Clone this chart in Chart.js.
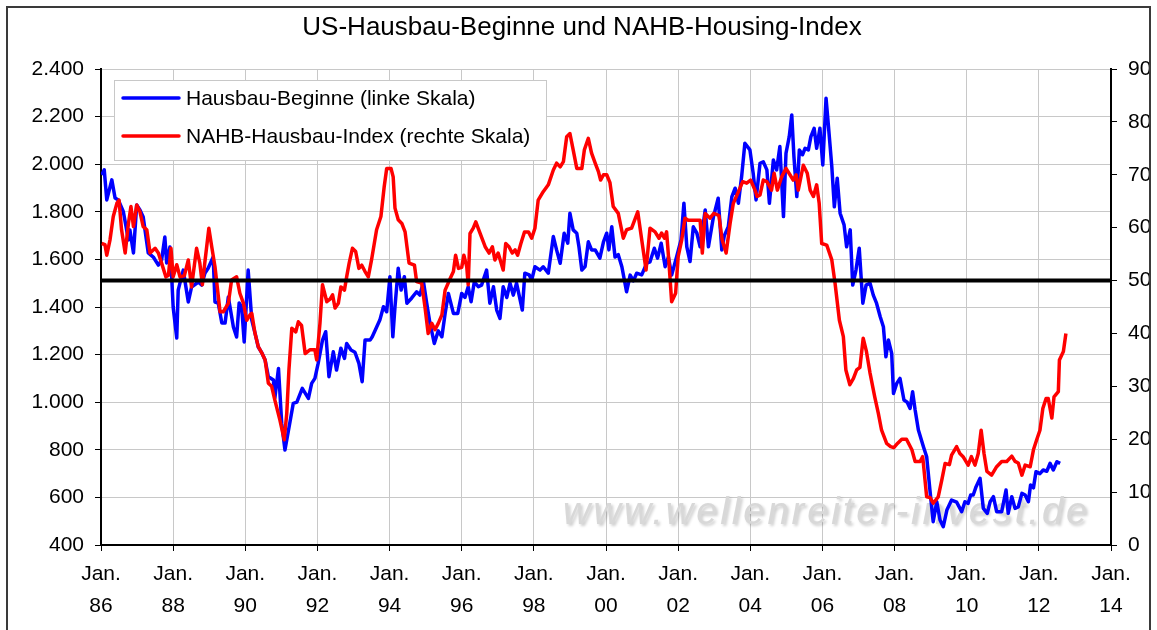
<!DOCTYPE html>
<html lang="de">
<head>
<meta charset="utf-8">
<title>US-Hausbau-Beginne und NAHB-Housing-Index</title>
<script src="https://cdn.jsdelivr.net/npm/chart.js@4.4.0/dist/chart.umd.min.js"></script>
<style>
  html, body { margin: 0; padding: 0; background: #fff; }
  #wrap { width: 1157px; height: 630px; position: relative; }
</style>
</head>
<body>
<div id="wrap"><canvas id="housingChart"></canvas></div>
<script>
// Housing starts (thousands, annualised)
const hsDates = [
  1986.02, 1986.09, 1986.16, 1986.30, 1986.39, 1986.48, 1986.62, 1986.76, 1986.80, 1986.90, 1986.99,
  1987.08, 1987.17, 1987.22, 1987.31, 1987.45, 1987.59, 1987.68, 1987.77, 1987.82, 1987.91, 1987.96,
  1988.00, 1988.10, 1988.14, 1988.28, 1988.42, 1988.51, 1988.70, 1988.79, 1988.88, 1988.97,
  1989.11, 1989.16, 1989.25, 1989.35, 1989.44, 1989.53, 1989.67, 1989.76, 1989.83, 1989.90, 1989.97,
  1990.08, 1990.18, 1990.27, 1990.36, 1990.46, 1990.55, 1990.64, 1990.78, 1990.82, 1990.92,
  1991.01, 1991.10, 1991.24, 1991.33, 1991.43, 1991.58, 1991.75, 1991.84, 1991.93,
  1992.02, 1992.14, 1992.23, 1992.32, 1992.44, 1992.53, 1992.65, 1992.75, 1992.81, 1992.93,
  1993.04, 1993.15, 1993.24, 1993.32, 1993.46, 1993.52, 1993.73, 1993.83, 1993.92,
  1994.01, 1994.09, 1994.15, 1994.24, 1994.32, 1994.41, 1994.48, 1994.61, 1994.75, 1994.84, 1994.94,
  1995.03, 1995.12, 1995.24, 1995.35, 1995.45, 1995.54, 1995.63, 1995.77, 1995.89,
  1996.00, 1996.09, 1996.18, 1996.26, 1996.35, 1996.46, 1996.55, 1996.69, 1996.78, 1996.88, 1996.97,
  1997.06, 1997.15, 1997.25, 1997.34, 1997.43, 1997.52, 1997.68, 1997.75, 1997.87, 1997.94,
  1998.03, 1998.17, 1998.26, 1998.40, 1998.54, 1998.63, 1998.73, 1998.84, 1998.94,
  1999.00, 1999.09, 1999.19, 1999.25, 1999.33, 1999.42, 1999.51, 1999.60, 1999.70, 1999.83, 1999.93,
  2000.02, 2000.08, 2000.16, 2000.25, 2000.34, 2000.44, 2000.57, 2000.67, 2000.76, 2000.85, 2000.99,
  2001.13, 2001.22, 2001.34, 2001.43, 2001.53, 2001.64, 2001.73, 2001.82, 2001.96,
  2002.08, 2002.16, 2002.24, 2002.33, 2002.42, 2002.52, 2002.61, 2002.75, 2002.84, 2002.98,
  2003.11, 2003.21, 2003.28, 2003.39, 2003.49, 2003.58, 2003.67, 2003.76, 2003.85, 2003.99,
  2004.08, 2004.16, 2004.27, 2004.36, 2004.46, 2004.53, 2004.64, 2004.73, 2004.82, 2004.92, 2004.99,
  2005.08, 2005.15, 2005.21, 2005.29, 2005.36, 2005.45, 2005.52, 2005.61, 2005.68, 2005.77, 2005.84, 2005.93,
  2006.01, 2006.10, 2006.16, 2006.26, 2006.33, 2006.41, 2006.49, 2006.60, 2006.67, 2006.77, 2006.84, 2006.93,
  2007.02, 2007.12, 2007.21, 2007.32, 2007.41, 2007.50, 2007.60, 2007.69, 2007.76, 2007.83, 2007.92, 2007.97,
  2008.06, 2008.15, 2008.26, 2008.35, 2008.43, 2008.50, 2008.57, 2008.66, 2008.80, 2008.89, 2008.98,
  2009.07, 2009.17, 2009.26, 2009.35, 2009.45, 2009.58, 2009.72, 2009.86, 2009.95,
  2010.04, 2010.11, 2010.18, 2010.26, 2010.37, 2010.46, 2010.57, 2010.65, 2010.74, 2010.83, 2010.97,
  2011.09, 2011.15, 2011.25, 2011.34, 2011.43, 2011.53, 2011.62, 2011.71, 2011.77, 2011.85, 2011.92,
  2012.03, 2012.12, 2012.22, 2012.31, 2012.40, 2012.50, 2012.59
];
const hsValues = [
  1955, 1976, 1850, 1934, 1858, 1850, 1800, 1682, 1724, 1627, 1829,
  1808, 1778, 1724, 1627, 1610, 1576, 1597, 1694, 1585, 1652, 1526,
  1400, 1270, 1471, 1555, 1421, 1484, 1505, 1492, 1542, 1563,
  1610, 1421, 1417, 1333, 1333, 1442, 1316, 1274, 1417, 1400, 1253,
  1555, 1345, 1290, 1232, 1207, 1177, 1107, 1093, 1018, 1142,
  911, 799, 918, 995, 1000, 1058, 1016, 1079, 1100,
  1163, 1261, 1296, 1107, 1212, 1135, 1227, 1184, 1247, 1219,
  1210, 1163, 1086, 1261, 1261, 1275, 1345, 1401, 1380,
  1527, 1275, 1401, 1563, 1471, 1527, 1416, 1437, 1464, 1450, 1506,
  1416, 1332, 1247, 1300, 1275, 1373, 1457, 1373, 1373,
  1457, 1440, 1485, 1422, 1506, 1485, 1492, 1555, 1416, 1485, 1387,
  1352, 1485, 1440, 1500, 1450, 1500, 1387, 1542, 1535, 1513,
  1569, 1555, 1569, 1542, 1696, 1640, 1584, 1710, 1668,
  1794, 1724, 1710, 1653, 1555, 1570, 1674, 1640, 1640, 1605, 1674,
  1710, 1640, 1737, 1610, 1620, 1569, 1464, 1534, 1510, 1542, 1535,
  1584, 1590, 1647, 1605, 1668, 1569, 1610, 1534, 1612,
  1682, 1836, 1653, 1591, 1737, 1710, 1653, 1808, 1653, 1780,
  1857, 1640, 1700, 1737, 1864, 1899, 1836, 1948, 2088, 2060,
  1962, 1850, 2004, 2010, 1976, 1836, 2018, 1976, 2074, 1780, 2046,
  2116, 2207, 2032, 1864, 2060, 2040, 2067, 2060, 2116, 2151, 2067, 2151,
  1997, 2277, 2172, 1990, 1821, 1941, 1794, 1745, 1653, 1724, 1492, 1555,
  1647, 1416, 1492, 1500, 1450, 1416, 1360, 1317, 1191, 1261, 1205, 1037,
  1079, 1100, 1009, 1000, 974, 1044, 967, 883, 813, 771, 631,
  498, 582, 505, 477, 547, 589, 580, 540, 582,
  575, 610, 610, 645, 680, 554, 533, 582, 603, 540, 540,
  631, 533, 603, 554, 560, 617, 610, 582, 652, 640, 708,
  700, 715, 710, 743, 715, 750, 743
];

// NAHB housing market index (right scale)
const nahbDates = [
  1986.02, 1986.11, 1986.16, 1986.25, 1986.34, 1986.44, 1986.50, 1986.57, 1986.67, 1986.76, 1986.83, 1986.90, 1986.99,
  1987.08, 1987.17, 1987.27, 1987.36, 1987.50, 1987.59, 1987.68, 1987.80, 1987.87, 1987.94,
  1988.00, 1988.10, 1988.19, 1988.31, 1988.42, 1988.51, 1988.65, 1988.74, 1988.81, 1988.88, 1988.99,
  1989.07, 1989.16, 1989.30, 1989.39, 1989.53, 1989.62, 1989.76, 1989.85, 1989.95,
  1990.04, 1990.13, 1990.18, 1990.27, 1990.36, 1990.46, 1990.55, 1990.64, 1990.73, 1990.82, 1990.96,
  1991.08, 1991.15, 1991.21, 1991.29, 1991.40, 1991.47, 1991.56, 1991.66, 1991.79, 1991.93, 1991.98,
  1992.07, 1992.14, 1992.26, 1992.35, 1992.42, 1992.49, 1992.58, 1992.65, 1992.75, 1992.81, 1992.88, 1992.97,
  1993.06, 1993.15, 1993.23, 1993.32, 1993.41, 1993.50, 1993.64, 1993.76, 1993.85, 1993.92,
  1994.04, 1994.10, 1994.15, 1994.24, 1994.34, 1994.43, 1994.54, 1994.69, 1994.75, 1994.89, 1994.98,
  1995.07, 1995.17, 1995.26, 1995.35, 1995.45, 1995.54, 1995.68, 1995.77, 1995.83, 1995.91,
  1996.00, 1996.06, 1996.14, 1996.18, 1996.23, 1996.32, 1996.39, 1996.51, 1996.65, 1996.76, 1996.85, 1996.92,
  1997.01, 1997.15, 1997.22, 1997.31, 1997.40, 1997.48, 1997.55, 1997.64, 1997.74, 1997.85, 1997.94,
  1998.03, 1998.12, 1998.26, 1998.40, 1998.54, 1998.63, 1998.73, 1998.82, 1998.91,
  1999.00, 1999.09, 1999.19, 1999.33, 1999.40, 1999.51, 1999.60, 1999.70, 1999.79, 1999.85, 1999.93,
  2000.02, 2000.11, 2000.20, 2000.34, 2000.48, 2000.57, 2000.71, 2000.88, 2000.99,
  2001.11, 2001.22, 2001.36, 2001.47, 2001.54, 2001.62, 2001.68, 2001.74, 2001.82, 2001.93,
  2002.00, 2002.10, 2002.19, 2002.28, 2002.42, 2002.61, 2002.67, 2002.75, 2002.88, 2002.99,
  2003.13, 2003.22, 2003.33, 2003.44, 2003.53, 2003.67, 2003.79, 2003.90,
  2004.01, 2004.13, 2004.19, 2004.27, 2004.36, 2004.46, 2004.59, 2004.66, 2004.75, 2004.87, 2004.99,
  2005.10, 2005.19, 2005.27, 2005.33, 2005.47, 2005.58, 2005.66, 2005.75, 2005.84, 2005.91, 2005.98,
  2006.12, 2006.26, 2006.35, 2006.47, 2006.58, 2006.65, 2006.76, 2006.86, 2006.95,
  2007.04, 2007.13, 2007.22, 2007.32, 2007.45, 2007.55, 2007.64, 2007.78, 2007.89, 2007.98,
  2008.08, 2008.20, 2008.33, 2008.48, 2008.57, 2008.71, 2008.78, 2008.89, 2008.98,
  2009.07, 2009.21, 2009.31, 2009.40, 2009.52, 2009.58, 2009.72, 2009.81, 2009.90,
  2010.04, 2010.13, 2010.23, 2010.32, 2010.40, 2010.48, 2010.56, 2010.69, 2010.83, 2010.97,
  2011.11, 2011.25, 2011.34, 2011.43, 2011.53, 2011.62, 2011.76, 2011.85, 2011.94,
  2012.03, 2012.11, 2012.20, 2012.26, 2012.36, 2012.42, 2012.54, 2012.57, 2012.68, 2012.75
];
const nahbValues = [
  57.0, 56.8, 54.8, 57.7, 62.1, 64.6, 65.2, 59.6, 55.2, 60.8, 64.0, 60.2, 64.3,
  63.0, 60.2, 59.6, 55.2, 56.1, 55.2, 53.3, 50.7, 51.0, 56.1,
  50.7, 53.0, 50.7, 50.9, 53.9, 48.8, 56.1, 53.3, 49.2, 53.5, 59.9,
  56.4, 52.6, 44.1, 44.1, 45.7, 50.1, 50.7, 47.6, 45.7,
  42.5, 43.5, 43.8, 40.0, 37.5, 36.3, 35.0, 30.6, 30.0, 27.4, 23.6,
  19.9, 24.9, 33.1, 41.0, 40.3, 42.2, 41.5, 36.2, 36.9, 36.9, 35.0,
  41.9, 49.2, 46.0, 46.5, 47.3, 44.8, 45.7, 48.8, 48.2, 50.7, 53.3, 56.1,
  55.5, 52.3, 52.9, 51.7, 50.7, 53.9, 59.6, 62.1, 67.7, 71.2,
  71.2, 69.6, 63.7, 61.5, 60.8, 59.2, 53.3, 52.9, 49.8, 49.5, 45.1,
  40.0, 41.9, 40.7, 41.9, 43.5, 48.2, 50.4, 51.7, 54.8, 52.3,
  52.5, 54.8, 52.6, 49.2, 58.9, 59.9, 61.1, 58.9, 56.4, 55.2, 56.4, 53.9,
  55.2, 52.0, 57.0, 56.4, 55.2, 55.8, 54.8, 57.0, 59.2, 59.2, 58.0,
  59.9, 65.2, 66.8, 68.1, 70.9, 72.2, 71.5, 72.5, 77.2,
  77.8, 74.7, 71.2, 71.2, 74.7, 76.9, 74.1, 72.2, 70.6, 69.0, 70.0,
  70.0, 68.5, 64.0, 62.7, 58.0, 59.6, 59.9, 63.0, 57.7,
  52.0, 59.9, 59.2, 58.0, 59.0, 58.0, 59.2, 53.9, 46.0, 47.6,
  54.5, 57.7, 61.8, 61.4, 61.4, 61.4, 55.2, 62.7, 61.8, 62.7,
  62.3, 57.7, 55.2, 60.8, 64.6, 66.8, 68.7, 68.4,
  69.0, 67.1, 65.9, 66.2, 69.0, 68.7, 67.1, 70.3, 67.1, 69.6, 71.2,
  70.0, 69.0, 70.0, 67.1, 71.8, 70.3, 67.1, 65.9, 68.1, 64.6, 57.0,
  56.7, 53.9, 49.5, 42.5, 39.4, 33.1, 30.3, 31.5, 33.1,
  33.6, 39.1, 36.6, 32.5, 28.0, 24.9, 21.7, 19.2, 18.6, 18.4,
  19.2, 20.0, 20.0, 18.0, 15.8, 15.8, 16.7, 9.1, 9.0,
  7.9, 9.1, 12.3, 15.4, 15.2, 17.0, 18.6, 17.3, 16.7,
  15.1, 16.7, 15.1, 17.3, 21.7, 17.3, 13.9, 13.2, 14.8, 15.8,
  15.8, 16.8, 15.8, 15.5, 13.2, 15.1, 14.8, 18.0, 19.9,
  21.7, 25.8, 27.7, 27.7, 24.0, 28.0, 29.0, 35.0, 36.6, 40.0
];

// NAHB index neutral mark (right scale)
const markDates = [1986, 2014];
const markValues = [50, 50];

const chartTitle = 'US-Hausbau-Beginne und NAHB-Housing-Index';
const watermark = 'www.wellenreiter-invest.de';
const FONT = '"Liberation Sans", Arial, sans-serif';

/**
 * Pair up date and value arrays into {x, y} points
 */
function toPoints(dates, values) {
  return dates.map(function(d, i) {
    return { x: d, y: values[i] };
  });
}

/**
 * German thousands separator: 2400 -> 2.400
 */
function formatThousands(value) {
  return String(Math.round(value)).replace(/\B(?=(\d{3})+(?!\d))/g, '.');
}

// Frame, title, legend box and watermark (Excel look)
const decorations = {
  id: 'decorations',
  beforeDraw(chart) {
    const ctx = chart.ctx;
    ctx.save();
    ctx.fillStyle = '#fff';
    ctx.fillRect(0, 0, chart.width, chart.height);
    ctx.restore();
  },
  beforeDatasetsDraw(chart) {
    const ctx = chart.ctx;
    ctx.save();
    ctx.font = 'italic 38px ' + FONT;
    ctx.letterSpacing = '3px';
    ctx.textBaseline = 'alphabetic';
    ctx.textAlign = 'left';
    ctx.shadowColor = 'rgba(0, 0, 0, 0.2)';
    ctx.shadowBlur = 3;
    ctx.shadowOffsetX = 2;
    ctx.shadowOffsetY = 2;
    ctx.fillStyle = '#d8d8d8';
    ctx.fillText(watermark, 563, 524);
    ctx.restore();
  },
  afterDraw(chart) {
    const ctx = chart.ctx;
    ctx.save();

    // outer frame
    ctx.strokeStyle = '#3a3a3a';
    ctx.lineWidth = 2;
    ctx.strokeRect(7, 7, 1143, 640);

    // title
    ctx.fillStyle = '#000';
    ctx.font = '26px ' + FONT;
    ctx.textAlign = 'center';
    ctx.textBaseline = 'middle';
    ctx.fillText(chartTitle, 582, 28);

    // legend
    ctx.fillStyle = '#fff';
    ctx.fillRect(114, 80, 432, 80);
    ctx.strokeStyle = '#c8c8c8';
    ctx.lineWidth = 1;
    ctx.strokeRect(114.5, 80.5, 432, 80);

    const items = chart.data.datasets.slice(0, 2);
    ctx.font = '21px ' + FONT;
    ctx.textAlign = 'left';
    items.forEach(function(ds, i) {
      const y = 98 + i * 38;
      ctx.strokeStyle = ds.borderColor;
      ctx.lineWidth = 3.5;
      ctx.lineCap = 'round';
      ctx.beginPath();
      ctx.moveTo(123, y);
      ctx.lineTo(179, y);
      ctx.stroke();
      ctx.fillStyle = '#000';
      ctx.fillText(ds.label, 186, y + 1);
    });

    ctx.restore();
  }
};

const gridColor = '#c8c8c8';
const tickFont = { family: FONT, size: 21 };

const canvas = document.getElementById('housingChart');
new Chart(canvas, {
  type: 'line',
  data: {
    datasets: [
      {
        label: 'Hausbau-Beginne (linke Skala)',
        data: toPoints(hsDates, hsValues),
        borderColor: '#0000ff',
        borderWidth: 3.5,
        yAxisID: 'yLeft',
        order: 3
      },
      {
        label: 'NAHB-Hausbau-Index (rechte Skala)',
        data: toPoints(nahbDates, nahbValues),
        borderColor: '#ff0000',
        borderWidth: 3.5,
        yAxisID: 'yRight',
        order: 2
      },
      {
        label: '50er-Linie',
        data: toPoints(markDates, markValues),
        borderColor: '#000000',
        borderWidth: 4,
        yAxisID: 'yRight',
        order: 1
      }
    ]
  },
  options: {
    responsive: true,
    maintainAspectRatio: false,
    animation: false,
    layout: { padding: { top: 69 } },
    elements: {
      point: { radius: 0 },
      line: { tension: 0, borderJoinStyle: 'round', borderCapStyle: 'butt' }
    },
    plugins: {
      legend: { display: false },
      title: { display: false },
      tooltip: { enabled: false }
    },
    scales: {
      x: {
        type: 'linear',
        min: 1986,
        max: 2014,
        afterFit: function(scale) { scale.height = 85; },
        ticks: {
          stepSize: 2,
          autoSkip: false,
          maxRotation: 0,
          color: '#000',
          padding: 7,
          font: { family: FONT, size: 21, lineHeight: 1.52 },
          callback: function(value) {
            return ['Jan.', String(Math.round(value) % 100).padStart(2, '0')];
          }
        },
        grid: { color: gridColor, tickColor: '#000', tickLength: 6 },
        border: { color: '#000', width: 2 }
      },
      yLeft: {
        position: 'left',
        min: 400,
        max: 2400,
        afterFit: function(scale) { scale.width = 101; },
        ticks: {
          stepSize: 200,
          color: '#000',
          padding: 11,
          font: tickFont,
          callback: formatThousands
        },
        grid: { color: gridColor, tickColor: '#000', tickLength: 6 },
        border: { color: '#000', width: 2 }
      },
      yRight: {
        position: 'right',
        min: 0,
        max: 90,
        afterFit: function(scale) { scale.width = 46; },
        ticks: {
          stepSize: 10,
          color: '#000',
          padding: 11,
          font: tickFont
        },
        grid: { drawOnChartArea: false, tickColor: '#000', tickLength: 6 },
        border: { color: '#000', width: 2 }
      }
    }
  },
  plugins: [decorations]
});
</script>
</body>
</html>
